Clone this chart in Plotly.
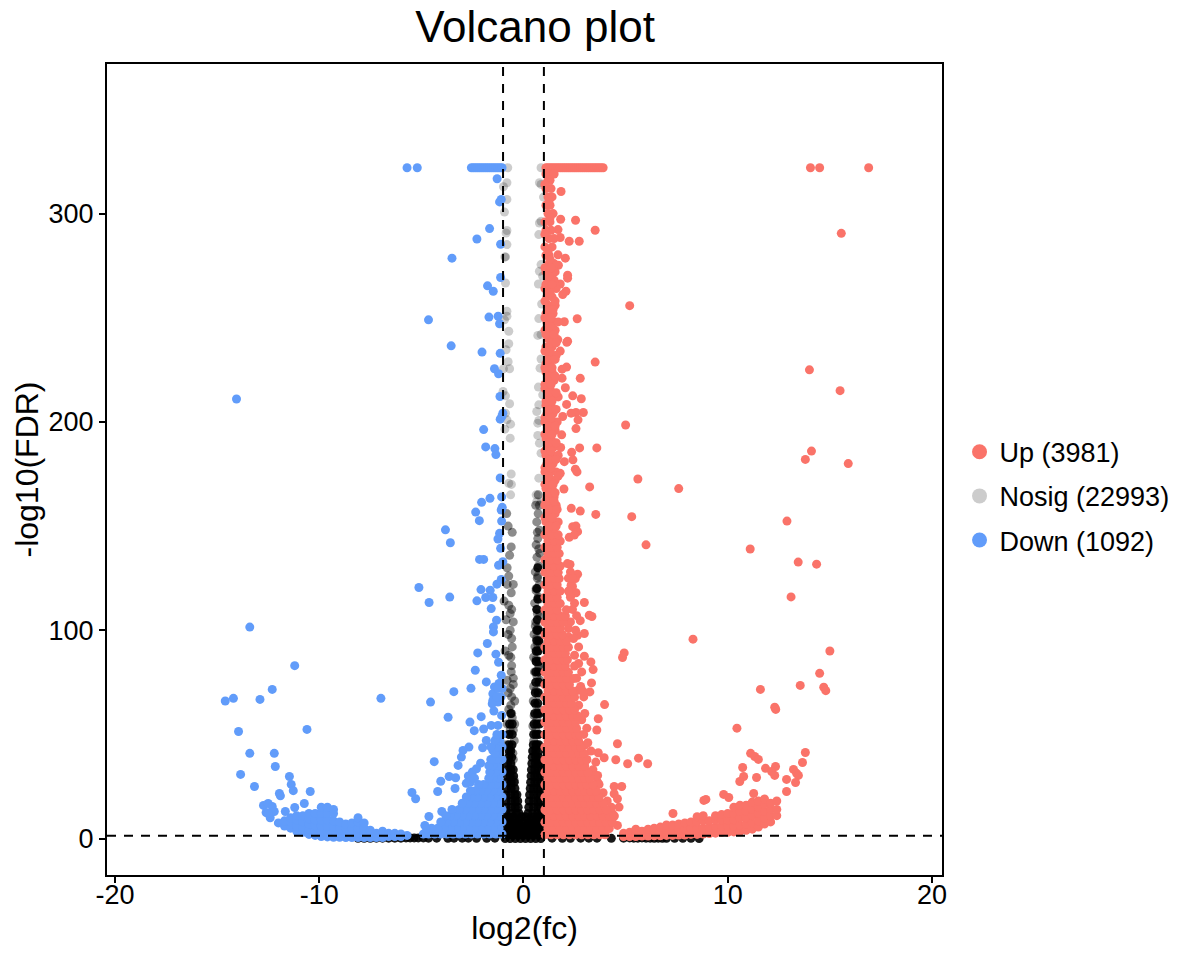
#!/usr/bin/env python
# -*- coding: utf-8 -*-
import plotly.graph_objects as go

# legend labels
legend_names = ["Up (3981)", "Nosig (22993)", "Down (1092)"]

# values along the saturated top of the plot
top_y = 322
up_top_x = [1.1, 1.2, 1.3, 1.4, 1.5, 1.6, 1.7, 1.8, 1.9, 2.0, 2.1, 2.2, 2.3, 2.4, 2.5, 2.6, 2.7, 2.8,
            2.9, 3.0, 3.1, 3.2, 3.3, 3.4, 3.5, 3.6, 3.7, 3.8, 3.9, 14.05, 14.5, 16.9]
down_top_x = [-5.7, -5.2, -2.55, -2.45, -2.35, -2.25, -2.15, -2.05, -1.95, -1.85, -1.75, -1.65, -1.55,
              -1.45, -1.35, -1.25, -1.15, -1.05]

# up: single points
up_x = [15.56, 5.2, 14.0, 15.5, 5.0, 15.9, 14.1, 13.8, 5.6, 7.6, 5.3, 12.9, 6.0, 11.1, 13.45, 14.35, 13.1, 8.3,
        15.0, 4.85, 4.93, 14.5, 14.7, 14.8, 11.6, 13.55, 12.3, 12.35, 10.45,
        11.12, 11.32, 11.5, 13.8, 13.66, 12.34, 11.85, 12.15, 12.3, 10.73, 10.78, 10.59, 11.41, 12.88, 13.22,
        13.37, 13.46, 13.32, 12.88, 9.8, 10.05, 11.27, 8.93, 8.83, 7.32,
        1.84, 1.82, 2.55, 3.51, 2.24, 2.73, 1.8, 1.69, 1.69, 2.05, 1.71, 2.16, 2.16, 1.8, 2.08, 1.92, 2.63, 2.0,
        2.16, 2.12, 1.8, 1.68, 3.51, 2.11, 1.89, 2.78, 1.89, 2.05, 2.41, 2.83, 2.11, 2.93, 2.57, 2.33, 1.92,
        2.67, 2.57, 1.87, 2.75, 3.59, 1.82, 2.36, 2.42, 2.0, 2.54, 2.62, 1.8, 3.24, 1.98, 2.34, 2.78, 3.54,
        2.41, 2.57, 2.65, 2.24, 2.49, 2.28, 2.65, 2.54, 2.33, 2.57, 2.98, 3.22, 3.35, 2.78, 2.98, 2.65, 2.21,
        2.98, 3.3, 3.41, 3.33, 3.25, 2.68, 3.97, 3.66, 3.59, 4.6, 3.66, 3.95, 3.54, 4.52, 5.1, 5.63, 6.08,
        3.63, 3.63, 4.44, 4.81, 4.44, 4.6, 4.68, 4.36, 4.6, 2.98]
up_y = [290.5, 255.8, 225, 215, 198.5, 180, 186, 182, 172.6, 168, 154.5, 152.4, 141, 139, 132.7, 131.7, 116, 95.7,
        90, 86.9, 89.1, 79.3, 72.6, 71, 71.6, 73.5, 63, 62, 53,
        40.9, 39.4, 38, 41.3, 36.5, 34.6, 33.7, 32.2, 30.3, 34.1, 29.8, 27.4, 29.3, 28.4, 33.2,
        31.3, 30.3, 26.9, 22.6, 21.2, 19.7, 21.6, 18.8, 18.3, 12,
        310.6, 297.3, 296.8, 292, 286.7, 286.7, 288.5, 292.3, 280.2, 278.6, 275.2, 270.4, 269, 266.2, 262.7, 261.1, 249.5, 248.1,
        238.7, 238.2, 234, 239.5, 228.7, 226.3, 225.3, 220.9, 221, 216.4, 212.5, 211.1, 208.4, 204.5, 204.5, 204.2, 202.6,
        201, 196.8, 193.8, 187.5, 187.5, 187.7, 185.4, 181.8, 180.9, 177.3, 176, 175.3, 168.8, 167.8, 158.5, 157.2, 155.6,
        149.7, 150, 147.3, 144.6, 145.7, 131.6, 126.9, 124.8, 121.6, 118, 113.3, 107.2, 106.6, 104.6, 98.4, 97.6, 96.8,
        87.5, 84.8, 81.1, 74.7, 70.4, 71.2, 64.3, 57.5, 52.1, 45.5, 41.2, 38.8, 36.7, 37.8, 35.9, 38.6, 35.9,
        30.3, 27.1, 25, 25, 21.5, 19.1, 15.1, 11.9, 6.3, 44.7]

# up: rough right edge of the mass
up_edge_x = [2.15, 2.3, 2.2, 2.4, 2.3, 2.5, 2.4, 2.6, 2.3, 2.55, 2.45, 2.7, 2.5, 2.7, 2.85, 2.6, 2.8, 2.95, 2.7, 3.0,
             2.85, 3.1, 2.95, 3.15, 3.3, 3.1, 3.4, 3.5, 3.7, 3.9, 4.1, 4.3]
up_edge_y = [132, 128, 125, 121, 117, 113, 110, 107, 104, 100, 96, 92, 88, 84, 80, 77, 73, 68, 64, 60,
             57, 53, 50, 46, 42, 38, 33, 30, 26, 22, 18, 15]

# up: the dense mass next to the threshold, row by row
up_mass_y = [1.8, 4.8, 7.8, 10.8, 13.8, 16.8, 19.8, 22.8, 25.8, 28.8, 31.8, 34.8, 37.8, 40.8, 43.8, 46.8, 49.8,
             52.8, 55.8, 58.8, 61.8, 64.8, 67.8, 70.8, 73.8, 76.8, 79.8, 82.8, 85.8, 88.8, 91.8, 94.8, 97.8,
             100.8, 103.8, 106.8, 109.8, 112.8, 115.8, 118.8, 121.8, 124.8, 127.8, 130.8, 133.8, 136.8, 139.8,
             142.8, 145.8, 148.8]
up_mass_x = [
    [1.05, 1.35, 1.65, 1.95, 2.25, 2.55, 2.85, 3.15, 3.45, 3.75, 4.0],
    [1.2, 1.5, 1.8, 2.1, 2.4, 2.7, 3.0, 3.3, 3.6, 3.9, 4.2],
    [1.05, 1.35, 1.65, 1.95, 2.25, 2.55, 2.85, 3.15, 3.45, 3.75, 4.05, 4.35],
    [1.2, 1.5, 1.8, 2.1, 2.4, 2.7, 3.0, 3.3, 3.6, 3.9, 4.2, 4.45],
    [1.05, 1.35, 1.65, 1.95, 2.25, 2.55, 2.85, 3.15, 3.45, 3.75, 4.05],
    [1.2, 1.5, 1.8, 2.1, 2.4, 2.7, 3.0, 3.3, 3.6, 3.9],
    [1.05, 1.35, 1.65, 1.95, 2.25, 2.55, 2.85, 3.15, 3.45, 3.7],
    [1.2, 1.5, 1.8, 2.1, 2.4, 2.7, 3.0, 3.3, 3.55],
    [1.05, 1.35, 1.65, 1.95, 2.25, 2.55, 2.85, 3.1, 3.4],
    [1.2, 1.5, 1.8, 2.1, 2.4, 2.7, 3.0, 3.25],
    [1.05, 1.35, 1.65, 1.95, 2.25, 2.55, 2.85, 3.15],
    [1.2, 1.5, 1.8, 2.1, 2.4, 2.7, 3.0],
    [1.05, 1.35, 1.65, 1.95, 2.25, 2.55, 2.85, 3.1],
    [1.2, 1.5, 1.8, 2.1, 2.4, 2.7, 2.95],
    [1.05, 1.35, 1.65, 1.95, 2.25, 2.55, 2.8],
    [1.2, 1.5, 1.8, 2.1, 2.4, 2.7],
    [1.05, 1.35, 1.65, 1.95, 2.25, 2.55, 2.75],
    [1.2, 1.5, 1.8, 2.1, 2.4, 2.6],
    [1.05, 1.35, 1.65, 1.95, 2.25, 2.55],
    [1.2, 1.5, 1.8, 2.1, 2.4, 2.65],
    [1.05, 1.35, 1.65, 1.95, 2.25, 2.5],
    [1.2, 1.5, 1.8, 2.1, 2.35],
    [1.05, 1.35, 1.65, 1.95, 2.25, 2.5],
    [1.2, 1.5, 1.8, 2.1, 2.4, 2.9],
    [1.05, 1.35, 1.65, 1.95, 2.25],
    [1.2, 1.5, 1.8, 2.1, 2.45],
    [1.05, 1.35, 1.65, 1.95, 2.2],
    [1.2, 1.5, 1.8, 2.05, 2.5],
    [1.05, 1.35, 1.65, 1.95, 2.15],
    [1.2, 1.5, 1.8, 2.05],
    [1.05, 1.35, 1.65, 1.95, 2.2],
    [1.2, 1.5, 1.8, 2.1],
    [1.05, 1.35, 1.65, 1.9],
    [1.2, 1.5, 1.8, 2.2],
    [1.05, 1.35, 1.65, 1.95],
    [1.2, 1.5, 1.8, 2.05],
    [1.05, 1.35, 1.65, 2.1],
    [1.2, 1.5, 1.8],
    [1.05, 1.35, 1.65, 2.3],
    [1.2, 1.5, 1.8, 2.2],
    [1.05, 1.35, 1.65],
    [1.2, 1.5, 1.75, 2.4],
    [1.05, 1.35, 1.7],
    [1.2, 1.5, 1.8],
    [1.05, 1.35, 1.65],
    [1.2, 1.5, 1.75],
    [1.05, 1.35, 1.65],
    [1.2, 1.5, 1.8],
    [1.05, 1.4, 1.7],
    [1.2, 1.5],
]

# up: column above the mass, thins out with height
up_col_y = [152, 156, 160, 164, 168, 172, 176, 180, 184, 188, 192, 196, 200, 204, 208, 212, 216, 220, 224, 228,
            232, 236, 240, 244, 248, 252, 256, 260, 264, 268, 272, 276, 280, 284, 288, 292, 296, 300, 304, 308,
            312, 316, 319]
up_col_x = [
    [1.1, 1.4, 1.7], [1.2, 1.55], [1.05, 1.35, 1.6], [1.15, 1.5], [1.1, 1.4], [1.2, 1.55], [1.05, 1.3, 1.6],
    [1.15, 1.45], [1.1, 1.4, 1.7], [1.2, 1.5], [1.1, 1.35], [1.2, 1.55], [1.05, 1.35, 1.65], [1.15, 1.45],
    [1.1, 1.35], [1.2, 1.5, 1.7], [1.05, 1.3], [1.2, 1.5], [1.1, 1.4], [1.1, 1.3], [1.25, 1.6], [1.1, 1.4],
    [1.2, 1.45], [1.05, 1.35, 1.55], [1.15, 1.5, 1.7], [1.1, 1.45], [1.2, 1.55], [1.15, 1.4], [1.05, 1.3, 1.6],
    [1.2, 1.5], [1.1, 1.4, 1.55], [1.25, 1.5], [1.1, 1.25], [1.05, 1.4], [1.25, 1.5], [1.1, 1.35], [1.05, 1.3],
    [1.2, 1.45], [1.1, 1.3], [1.2, 1.4], [1.1, 1.35], [1.2, 1.3], [1.1, 1.25, 1.5],
]
up_col2_y = [150, 154, 158, 162, 166, 170, 174, 178, 182, 186, 190, 194, 198, 202, 206, 210, 214, 218, 222, 226,
             230, 234, 238, 242, 246, 250, 254, 258, 262, 266, 270, 274, 278, 282, 290, 298, 306, 314]
up_col2_x = [
    [1.3, 1.6], [1.05, 1.4], [1.25, 1.65], [1.1, 1.5], [1.3, 1.55], [1.05, 1.45], [1.25, 1.7], [1.05, 1.35],
    [1.25, 1.6], [1.05, 1.35], [1.25, 1.6], [1.05, 1.4], [1.25, 1.55], [1.05, 1.35], [1.25, 1.6], [1.1, 1.4],
    [1.25, 1.6], [1.05, 1.35], [1.25, 1.55], [1.05, 1.4], [1.2, 1.55], [1.05, 1.3], [1.35, 1.6], [1.1, 1.5],
    [1.3], [1.05, 1.35], [1.3, 1.45], [1.05, 1.55], [1.3], [1.1, 1.4], [1.25], [1.05, 1.35], [1.3], [1.2],
    [1.05], [1.3], [1.25], [1.05],
]

# up: wing on the right, column by column
up_wing_x = [4.9, 5.2, 5.5, 5.8, 6.1, 6.4, 6.7, 7.0, 7.3, 7.6, 7.9, 8.2, 8.5, 8.8, 9.1, 9.4, 9.7, 10.0, 10.3, 10.6,
             10.9, 11.2, 11.5, 11.8, 12.1, 12.4]
up_wing_y = [
    [1.0, 2.5], [1.0, 3.0], [1.0, 3.0, 4.5], [1.2, 3.5], [1.2, 3.5, 4.5], [1.3, 3.5, 5.0], [1.3, 3.5, 5.5],
    [1.5, 4.0, 6.5], [1.5, 4.0, 6.5], [1.7, 4.5, 7.0], [1.7, 4.5, 7.5], [2.0, 5.0, 8.0], [2.0, 5.0, 8.0, 10.5],
    [2.2, 5.0, 8.5, 11.0], [2.4, 5.5, 8.5], [2.6, 5.5, 9.0, 11.0], [3.0, 6.0, 9.0, 11.5], [3.0, 6.0, 9.0, 12.0],
    [3.2, 6.0, 9.0, 12.0, 15.0], [3.5, 6.5, 10.0, 13.0, 16.0], [4.0, 7.0, 10.0, 13.0, 16.0],
    [4.5, 7.5, 11.0, 14.0, 17.5], [5.5, 8.5, 12.0, 15.0, 18.0], [7.0, 10.0, 13.0, 16.5, 19.0],
    [8.0, 11.0, 14.0, 17.0], [11.0, 14.0, 18.0],
]

# down: single points
down_x = [-14.05, -3.5, -4.65, -3.54, -3.82, -3.58, -5.12, -4.62, -3.61, -13.4, -11.2, -14.6, -14.2, -12.3, -12.9,
          -6.98, -10.6, -13.95, -13.4, -12.2, -13.85, -12.15, -13.17, -11.46, -11.37, -11.27, -11.95, -11.9, -10.44,
          -10.73, -11.2, -11.66, -12.73, -12.5, -12.3, -12.6, -12.4, -12.2, -12.5,
          -5.46, -5.28, -4.55, -3.41, -3.69, -4.37, -3.64, -3.32, -4.05, -3.35, -4.2, -4.0, -4.63, -4.83,
          -1.29, -1.17, -1.09, -1.66, -2.28, -1.12, -1.12, -1.76, -1.48, -1.69, -1.24, -1.17, -2.03, -1.14, -1.42,
          -1.22, -1.15, -1.01, -1.14, -1.06, -1.95, -1.85, -1.4, -1.35, -1.14, -1.07, -1.64, -2.05, -1.04, -2.34,
          -2.16, -2.15, -1.95, -1.09, -1.07, -1.17, -1.25, -1.12, -1.22, -1.01, -1.09, -1.3, -2.08, -1.63, -1.85,
          -1.5, -2.28, -1.58, -1.32, -1.47, -1.47, -1.77, -2.24, -1.35, -1.22, -2.36, -1.09, -1.82, -2.57, -1.42,
          -1.2, -1.5, -1.5, -1.25, -1.53, -1.45, -2.07, -2.62, -1.07, -2.41, -1.95, -1.58, -1.25, -1.82, -1.33,
          -2.0, -2.67, -2.96, -3.04, -3.2, -2.1, -1.5, -1.5, -1.33,
          -2.7, -2.5, -2.4, -2.6, -2.8, -2.3]
down_y = [211, 278.6, 249, 236.5, 148.2, 142, 120.5, 113.3, 115.9, 101.5, 83, 66, 67.3, 71.6, 66.8,
          67.3, 52.4, 51.4, 40.9, 40.9, 30.8, 34.6, 25, 29.8, 26, 23, 21.6, 20.5, 22.6,
          16.8, 14.9, 13, 15.9, 16.8, 15.4, 12.5, 10, 13, 12,
          22.1, 19.1, 65.5, 70.5, 58.2, 36.9, 29.8, 29.2, 27.5, 24, 22.6, 13, 10.6, 6.3,
          316.7, 305.6, 306.8, 292.8, 287.8, 285.3, 269.3, 265.3, 262.7, 250.3, 250.7, 247.1, 233.5, 232.9, 225.5,
          223.1, 212.2, 204.2, 201.3, 202.6, 196.3, 188, 187.2, 184.3, 173.1, 164, 163.3, 161.4, 159, 156.7,
          152.6, 134, 134, 157.7, 152.4, 146.5, 143.8, 139.3, 131.2, 132.9, 124.4, 122.1, 119.5, 119.2, 115.7,
          115.7, 114.1, 110.4, 104.8, 101.6, 99.2, 93.6, 89.1, 88.5, 84.6, 80.8, 78.4, 75.2, 72.1, 72.8,
          74.4, 69.5, 66.3, 65.5, 64.7, 61.2, 58.5, 55.9, 59.1, 51.8, 52.6, 54.3, 54.3, 47.1, 47.9,
          43.6, 43.9, 42.3, 39.1, 35.1, 36.2, 42.3, 37.5, 34.3,
          30, 32, 29, 27, 26.5, 33.5]

# down: mass next to the threshold, row by row
down_mass_y = [2.2, 5.0, 8.0, 11.0, 14.0, 17.0, 20.0, 23.0, 26.0, 29.0, 32.0, 35.0, 38.0, 41.0, 44.0, 47.0, 50.0,
               68.0, 72.0]
down_mass_x = [
    [-1.05, -1.35, -1.65, -1.95, -2.25, -2.55, -2.85, -3.15, -3.45, -3.75, -4.05, -4.35, -4.65, -4.9],
    [-1.2, -1.5, -1.8, -2.1, -2.4, -2.7, -3.0, -3.3, -3.6, -3.9, -4.2, -4.5, -4.75],
    [-1.05, -1.35, -1.65, -1.95, -2.25, -2.55, -2.85, -3.15, -3.45, -3.75, -4.05],
    [-1.2, -1.5, -1.8, -2.1, -2.4, -2.7, -3.0, -3.3, -3.6, -3.8],
    [-1.05, -1.35, -1.65, -1.95, -2.25, -2.55, -2.85, -3.15, -3.5],
    [-1.2, -1.5, -1.8, -2.1, -2.4, -2.7, -3.0],
    [-1.05, -1.35, -1.65, -1.95, -2.25, -2.55, -2.8],
    [-1.2, -1.5, -1.8, -2.1, -2.35, -2.6],
    [-1.05, -1.35, -1.65, -1.95, -2.2],
    [-1.2, -1.5, -1.7],
    [-1.05, -1.35, -1.65],
    [-1.2, -1.5, -1.7],
    [-1.05, -1.3, -1.6],
    [-1.15, -1.4],
    [-1.05, -1.3, -1.6],
    [-1.15, -1.4],
    [-1.05, -1.3],
    [-1.1, -1.3],
    [-1.05, -1.25],
]

# down: wing on the left, column by column
down_wing_x = [-12.0, -11.7, -11.4, -11.1, -10.8, -10.5, -10.2, -9.9, -9.6, -9.3, -9.0, -8.7, -8.4, -8.1, -7.8, -7.5,
               -7.2, -6.9, -6.6, -6.3, -6.0, -5.7]
down_wing_y = [
    [7.5], [6.0, 8.5], [5.0, 8.0, 10.0], [3.5, 6.0, 9.0, 11.0], [3.0, 5.5, 8.0, 11.0], [2.0, 4.5, 7.0, 9.5, 12.0],
    [1.5, 4.0, 6.5, 9.0, 12.0], [1.0, 3.5, 6.0, 9.0, 12.0, 15.0], [0.8, 3.0, 6.0, 9.0, 12.0, 15.0],
    [0.6, 3.0, 5.5, 8.5, 12.0, 14.0], [0.6, 2.5, 5.0, 8.0], [0.5, 2.5, 5.0, 7.0], [0.5, 2.5, 5.0, 7.5],
    [0.5, 2.5, 5.0, 8.0, 10.0], [0.5, 2.5, 5.0, 7.5], [0.5, 2.5, 4.0], [0.5, 2.5], [0.5, 2.5, 3.5], [1.0, 2.5],
    [1.0, 2.5], [1.0, 2.2], [1.5],
]

# nosig: light single points on both columns
nosig_x = [-0.77, -0.81, -0.98, -0.81, -0.93, -0.81, -0.85, -0.81, -0.88, -0.91, -0.88, -0.81, -0.81, -0.93, -0.72,
           -0.72, -0.85, -0.75, -0.68, -0.98, -1.0, -0.88, -0.68, -0.88, -0.81, -0.63, -0.91, -0.65, -0.6, -0.72,
           -0.59, -0.63,
           0.86, 0.78, 0.86, 0.98, 0.86, 0.78, 0.75, 0.86, 0.78, 0.94, 0.73, 0.89, 0.75, 0.7, 0.86, 0.86, 0.81,
           0.73, 0.94, 0.75, 0.65, 0.75, 0.7, 0.7, 0.78, 0.86, 0.75, 0.62, 0.65, 0.86]
nosig_y = [322, 314.8, 312.9, 306.8, 300.7, 291.9, 290.7, 285.1, 279.2, 279.2, 266.7, 253.1, 250.7, 249, 243.5,
           237.5, 234.6, 228.9, 225.5, 225.5, 214.6, 212.5, 208.7, 204.2, 201, 198.9, 196.5, 192.2, 175, 170.5,
           170, 165,
           322, 314.8, 314, 307.9, 296.3, 295.5, 289.9, 275.5, 272.3, 269.9, 266.2, 256.6, 249.6, 241.5, 241.9,
           230.2, 225.8, 216.7, 213, 208.2, 205, 200.7, 199.4, 193.5, 189.8, 185, 173, 165, 161.7, 161.7]

# nosig: darker overlaps lower down
nosig_mid_x = [-0.82, -0.75, -0.55, -0.6, -0.68, -0.5, -0.8, -0.95, -0.58, -0.65, -0.5, -0.75, -0.58, -0.9, -0.62,
               -0.58, -0.5, -0.65, -0.43, -0.58, -0.75, -0.58, -0.43, -0.5, -0.7, -0.85, -0.45, -0.62, -0.52, -0.7,
               -0.5, -0.6, -0.72, -0.55, -0.45,
               -0.8, -0.72, -0.6, -0.72, -0.85, -0.65, -0.55, -0.72, -0.6, -0.8, -0.5, -0.62, -0.72, -0.55, -0.8, -0.65,
               0.6, 0.72, 0.65, 0.78, 0.7, 0.62, 0.8, 0.66, 0.74, 0.58, 0.68, 0.78, 0.62, 0.72, 0.55, 0.66, 0.8, 0.6,
               0.7, 0.52, 0.64, 0.78, 0.56, 0.68, 0.5, 0.62, 0.75, 0.54, 0.66, 0.8, 0.5, 0.6, 0.72, 0.48, 0.62, 0.76,
               0.52, 0.66, 0.46, 0.6, 0.74, 0.5, 0.64, 0.44, 0.58, 0.72,
               0.72, 0.78, 0.68, 0.75, 0.7, 0.62, 0.78, 0.68, 0.58, 0.75, 0.7, 0.62, 0.76]
nosig_mid_y = [156, 150, 147, 140, 136, 122, 122, 114, 110, 108, 104, 98, 96, 90, 87, 83, 77, 72, 66, 68, 70, 60, 55,
               52, 50, 45, 47, 44, 41, 40, 38, 35, 32, 30, 28,
               130, 126, 118, 112, 105, 100, 92, 88, 80, 76, 74, 64, 62, 58, 55, 52,
               160, 156, 152, 148, 144, 141, 137, 135, 131, 128, 125, 122, 119, 116, 113, 110, 107, 104, 101, 98, 96,
               94, 92, 90, 87, 85, 83, 80, 78, 76, 73, 71, 69, 66, 64, 62, 59, 57, 54, 52, 50, 47, 45, 42, 40, 38,
               165, 160, 147, 139, 126, 120, 115, 108, 102, 100, 93, 86, 82]

# nosig: solid black where points pile up
nosig_core_y = [0.0, 1.5, 3.0, 4.5, 6.0, 7.5, 9.0, 10.5, 12.0, 15.0, 18.0, 21.0, 24.0, 27.0, 30.0, 33.0, 36.0, 39.0, 42.0, 45.0,
                50.0, 55.0, 60.0, 65.0, 70.0, 75.0, 80.0, 85.0, 90.0, 95.0, 100.0, 105.0, 110.0, 115.0, 120.0, 130.0]
nosig_core_x = [
    [-0.9, -0.65, -0.4, -0.15, 0.1, 0.35, 0.6, 0.85],
    [-0.75, -0.5, -0.25, 0.0, 0.25, 0.5, 0.75],
    [-0.85, -0.6, -0.35, -0.1, 0.15, 0.4, 0.65, 0.85],
    [-0.75, -0.5, -0.25, 0.0, 0.25, 0.5, 0.75],
    [-0.85, -0.6, -0.35, -0.12, 0.12, 0.35, 0.6, 0.85],
    [-0.75, -0.5, -0.25, 0.0, 0.25, 0.5, 0.75],
    [-0.85, -0.65, -0.4, -0.2, 0.18, 0.4, 0.65, 0.85],
    [-0.75, -0.5, -0.1, 0.1, 0.5, 0.75],
    [-0.85, -0.6, -0.35, -0.22, 0.22, 0.45, 0.7, 0.85],
    [-0.85, -0.6, -0.4, -0.26, 0.26, 0.5, 0.7, 0.85],
    [-0.85, -0.6, -0.4, -0.28, 0.28, 0.5, 0.7, 0.85],
    [-0.85, -0.62, -0.42, -0.32, 0.3, 0.5, 0.7, 0.85],
    [-0.82, -0.6, -0.42, 0.33, 0.5, 0.7, 0.85],
    [-0.82, -0.6, -0.45, 0.35, 0.55, 0.7, 0.85],
    [-0.8, -0.65, -0.48, 0.37, 0.55, 0.7, 0.85],
    [-0.8, -0.62, -0.5, 0.39, 0.55, 0.72, 0.85],
    [-0.78, -0.62, 0.41, 0.58, 0.72, 0.82],
    [-0.72, -0.58, 0.43, 0.6, 0.75],
    [-0.7, -0.62, 0.46, 0.6, 0.75],
    [-0.72, -0.56, 0.48, 0.62, 0.75],
    [-0.72, -0.55, 0.5, 0.62, 0.75],
    [-0.68, -0.55, 0.52, 0.65, 0.78],
    [-0.62, 0.55, 0.68, 0.78],
    [0.56, 0.7],
    [0.58, 0.72],
    [0.6, 0.75],
    [0.6, 0.72],
    [0.62, 0.75],
    [0.62, 0.72],
    [0.65, 0.75],
    [0.65, 0.72],
    [0.68],
    [0.65],
    [0.7],
    [0.66],
    [0.7],
]

# nosig: tails along the bottom, far from zero
nosig_tail_x = [-8.1, -7.8, -7.5, -7.2, -6.9, -6.6, -6.3, -6.0, -5.75, -5.55, -5.35, -5.15, -4.9, -4.65, -4.25, -3.7, -3.4,
                -3.0, -2.7, -2.3, -1.8, -1.4,
                1.4, 1.9, 2.3, 2.8, 3.2, 3.6, 4.3, 4.9, 5.2, 5.4, 5.6, 5.8, 6.0, 6.2, 6.4, 6.6, 6.8, 7.0, 7.4, 7.8, 8.2, 8.6]
nosig_tail_y = [0.1, 0.1, 0.1, 0.2, 0.2, 0.2, 0.2, 0.2, 0.3, 0.3, 0.3, 0.3, 0.3, 0.2, 0.2, 0.1, 0.2,
                0.2, 0.2, 0.1, 0.1, 0.2,
                0.2, 0.1, 0.1, 0.2, 0.2, 0.2, 0.1, 0.2, 0.3, 0.2, 0.2, 0.3, 0.2, 0.2, 0.1, 0.2, 0.1, 0.1, 0.1, 0.1, 0.1, 0.0]

# tick labels
x_ticks = [-20, -10, 0, 10, 20]
y_ticks = [0, 100, 200, 300]
threshold_fc = 1
threshold_fdr = 1.3


def flat_rows(row_y, row_x):
    xs, ys = [], []
    for y, row in zip(row_y, row_x):
        for x in row:
            xs.append(x)
            ys.append(y)
    return xs, ys


UP_COLOR = "#FA7369"
DOWN_COLOR = "#619CFA"
GREY = "rgba(0,0,0,0.2)"
FONT = "Liberation Sans"
SIZE = 9

mass_x, mass_y = flat_rows(up_mass_y, up_mass_x)
col_x, col_y = flat_rows(up_col_y, up_col_x)
col2_x, col2_y = flat_rows(up_col2_y, up_col2_x)
# wings are stored by column, so the flat lists come back the other way round
wing_y, wing_x = flat_rows(up_wing_x, up_wing_y)
all_up_x = up_top_x + up_x + up_edge_x + mass_x + col_x + col2_x + wing_x
all_up_y = [top_y] * len(up_top_x) + up_y + up_edge_y + mass_y + col_y + col2_y + wing_y

dmass_x, dmass_y = flat_rows(down_mass_y, down_mass_x)
dwing_y, dwing_x = flat_rows(down_wing_x, down_wing_y)
all_down_x = down_top_x + down_x + dmass_x + dwing_x
all_down_y = [top_y] * len(down_top_x) + down_y + dmass_y + dwing_y

core_x, core_y = flat_rows(nosig_core_y, nosig_core_x)

fig = go.Figure()
fig.add_trace(go.Scatter(x=nosig_x, y=nosig_y, mode="markers", showlegend=False,
                         marker=dict(color=GREY, size=SIZE)))
fig.add_trace(go.Scatter(x=nosig_mid_x, y=nosig_mid_y, mode="markers", showlegend=False,
                         marker=dict(color="rgba(0,0,0,0.45)", size=SIZE)))
fig.add_trace(go.Scatter(x=core_x + nosig_tail_x, y=core_y + nosig_tail_y, mode="markers", showlegend=False,
                         marker=dict(color="rgba(0,0,0,0.9)", size=SIZE)))
fig.add_trace(go.Scatter(x=all_up_x, y=all_up_y, mode="markers", showlegend=False,
                         marker=dict(color=UP_COLOR, size=SIZE)))
fig.add_trace(go.Scatter(x=all_down_x, y=all_down_y, mode="markers", showlegend=False,
                         marker=dict(color=DOWN_COLOR, size=SIZE)))

# legend only entries, the markers there are bigger than on the plot
for name, color in zip(legend_names, [UP_COLOR, "#CCCCCC", DOWN_COLOR]):
    fig.add_trace(go.Scatter(x=[None], y=[None], mode="markers", name=name, legendgroup=name,
                             marker=dict(color=color, size=15)))

dash = "9px,8px"
fig.add_vline(x=-threshold_fc, line=dict(color="black", width=2, dash=dash))
fig.add_vline(x=threshold_fc, line=dict(color="black", width=2, dash=dash))
fig.add_hline(y=threshold_fdr, line=dict(color="black", width=2, dash=dash))

axis = dict(showgrid=False, zeroline=False, showline=True, linecolor="black", linewidth=2, mirror=True,
            ticks="outside", ticklen=6, tickwidth=2, tickcolor="black", automargin=False,
            tickfont=dict(family=FONT, size=27, color="black"))
fig.update_xaxes(axis, range=[-20.39, 20.49], tickmode="array", tickvals=x_ticks,
                 ticktext=[str(t) for t in x_ticks], ticklabelstandoff=-11,
                 title=dict(text="log2(fc)", font=dict(family=FONT, size=32, color="black"), standoff=3))
fig.update_yaxes(axis, range=[-17.5, 371.8], tickmode="array", tickvals=y_ticks,
                 ticktext=[str(t) for t in y_ticks],
                 title=dict(text="-log10(FDR)", font=dict(family=FONT, size=32, color="black"), standoff=0))
fig.update_layout(
    width=1181, height=957, autosize=False,
    paper_bgcolor="white", plot_bgcolor="white",
    margin=dict(l=107, r=239, t=64, b=82, autoexpand=False),
    title=dict(text="Volcano plot", font=dict(family=FONT, size=44, color="black"),
               x=535 / 1181, xref="container", xanchor="center", y=1 - 27 / 957, yanchor="middle"),
    legend=dict(x=1.021, y=0.467, xanchor="left", yanchor="middle", tracegroupgap=6, itemwidth=30,
                font=dict(family=FONT, size=27, color="black"), bgcolor="rgba(0,0,0,0)"),
)

# page body has a default margin, the chart should sit flush with the window
fig.write_html("out.html", config={"displayModeBar": False}, post_script="document.body.style.margin='0';")
